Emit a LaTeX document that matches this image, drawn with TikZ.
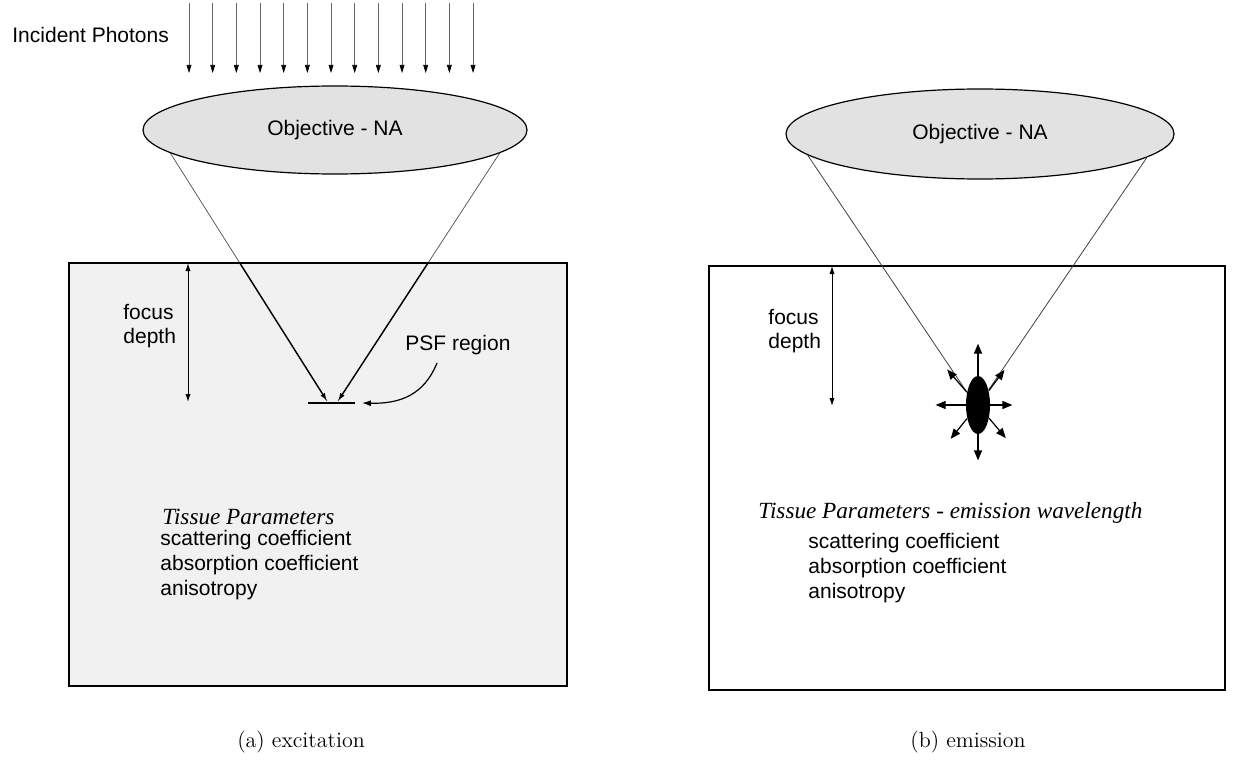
\documentclass[tikz,border=0pt]{standalone}
\usepackage{fontspec}
\newfontfamily\helv{Liberation Sans}
\newfontfamily\timesit{Liberation Serif Italic}
\usetikzlibrary{arrows.meta,shapes.geometric,calc}
\definecolor{tissuegray}{RGB}{241,241,241}
\definecolor{lensgray}{RGB}{226,226,226}

\begin{document}
\begin{tikzpicture}[x=0.5pt,y=-0.5pt,>=Latex]
\tikzstyle{lens}=[draw,ellipse,fill=lensgray,inner sep=0pt,line width=0.6pt,font=\helv\fontsize{10.5}{12}\selectfont]
\tikzstyle{sanstext}=[font=\helv\fontsize{10.5}{12}\selectfont,inner sep=0pt,align=left]
\tikzstyle{listtext}=[font=\helv\fontsize{10.5}{12.3}\selectfont,inner sep=0pt,align=left]
\tikzstyle{tissuetitle}=[font=\timesit\fontsize{11.6}{13}\selectfont,inner sep=0pt]
\tikzstyle{caption}=[font=\fontsize{11}{13}\selectfont,inner sep=0pt]
\tikzstyle{photon}=[black!60,line width=0.35pt,-{Triangle[length=4pt,width=2.4pt,color=black]}]
\tikzstyle{depth}=[line width=0.5pt,{Latex[length=4pt,width=2.6pt]}-{Latex[length=4pt,width=2.6pt]}]
\tikzstyle{ray}=[line width=0.6pt,-{Triangle[length=5pt,width=4pt]}]
\useasboundingbox (0,0) rectangle (1234,759);

% (a) excitation
\node[sanstext,anchor=west] (inc) at (12,35) {Incident Photons};
\foreach \i in {0,...,12}{
  \coordinate (ph\i) at (189+23.67*\i,3);
  \draw[photon] (ph\i) -- ++(0,70);
}
\draw[fill=tissuegray,line width=0.6pt] (69,263) rectangle (567,686);
\node[lens,minimum width=192pt,minimum height=44pt] (objA) at (335,130) {Objective - NA};
\node[fill=black,minimum width=23.5pt,minimum height=1.4pt,inner sep=0pt] (psfA) at (331,403) {};
\coordinate (tipAl) at (327,401);
\coordinate (tipAr) at (338,401);
\draw[black!70,line width=0.35pt] (objA.188) -- (tipAl);
\draw[black!70,line width=0.35pt] (objA.-8) -- (tipAr);
\draw[line width=0.7pt,-{Latex[length=4pt,width=2.6pt]}] ($(objA.188)!0.44!(tipAl)$) -- (tipAl);
\draw[line width=0.7pt,-{Latex[length=4pt,width=2.6pt]}] ($(objA.-8)!0.44!(tipAr)$) -- (tipAr);
\coordinate (fdAt) at (188,263);
\coordinate (fdAb) at (188,402);
\draw[depth] (fdAt) -- (fdAb);
\node[sanstext,anchor=west] (fdA) at (123,326) {focus\\depth};
\node[sanstext,anchor=west] (psfL) at (405,345) {PSF region};
\coordinate (psfC) at (437,363);
\draw[line width=0.6pt,-{Latex[length=4.5pt,width=3pt]}] (psfC) .. controls (424,395) and (400,404) .. ([xshift=3.5pt]psfA.east);
\node[tissuetitle,anchor=west] (parA) at (162,517) {Tissue Parameters};
\node[listtext,anchor=west] (listA) at (160,565) {scattering coefficient\\absorption coefficient\\anisotropy};
\node[caption] (capA) at (301,742) {(a) excitation};

% (b) emission
\draw[fill=white,line width=0.6pt] (709,266) rectangle (1225,690);
\node[lens,minimum width=194pt,minimum height=45pt] (objB) at (980,134) {Objective - NA};
\node[ellipse,fill=black,minimum width=12pt,minimum height=29pt,inner sep=0pt] (emit) at (978,405) {};
\draw[black!75,line width=0.4pt] (objB.187) -- (emit.131);
\draw[black!75,line width=0.4pt] (objB.-8) -- (emit.55);
\foreach \a/\l in {90/16,270/13,180/15,0/11,131/15,53/13,231/13,310/13}{
  \path (emit.\a) ++(\a:\l pt) coordinate (ray\a);
  \draw[ray] (emit.\a) -- (ray\a);
}
\coordinate (fdBt) at (832,266);
\coordinate (fdBb) at (832,406);
\draw[depth] (fdBt) -- (fdBb);
\node[sanstext,anchor=west] (fdB) at (768,331) {focus\\depth};
\node[tissuetitle,anchor=west] (parB) at (758,513) {Tissue Parameters - emission wavelength};
\node[listtext,anchor=west] (listB) at (808,568) {scattering coefficient\\absorption coefficient\\anisotropy};
\node[caption] (capB) at (968,742) {(b) emission};
\end{tikzpicture}
\end{document}
